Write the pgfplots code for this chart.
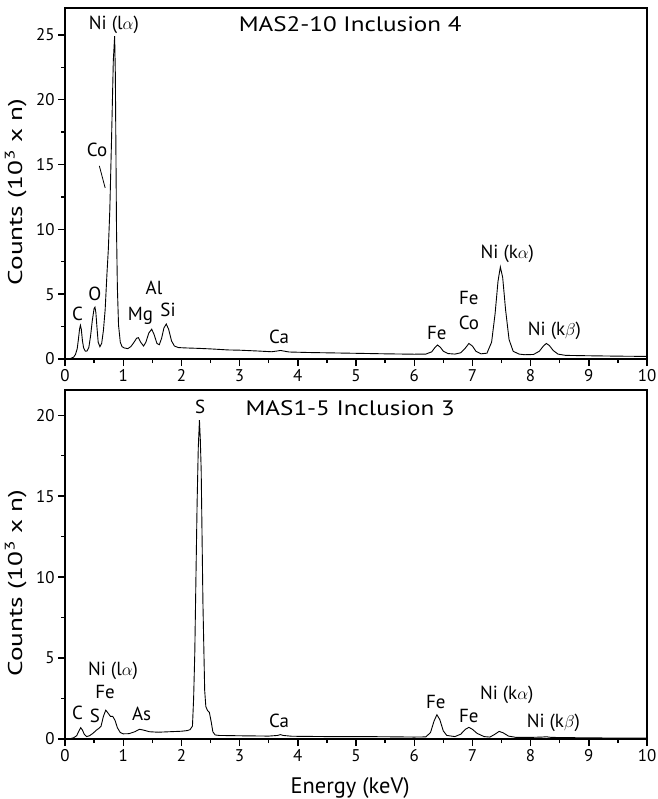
\documentclass[border=0pt]{standalone}
\usepackage{fontspec}
\setmainfont{PT Sans}
\usepackage{graphicx}
\usepackage{pgfplots}
\pgfplotsset{compat=1.18}

\newcommand{\annot}{\fontsize{19}{22}\selectfont}
\newcommand{\ttl}{\fontsize{21}{25}\selectfont}

\pgfplotsset{spec/.style={
  width=582bp, scale only axis,
  xmin=0, xmax=10, ymin=0,
  xtick={0,1,...,10}, minor x tick num=1, minor y tick num=1,
  tick align=outside, xtick pos=bottom, ytick pos=left,
  major tick length=7bp, minor tick length=4bp,
  tick style={line width=1.4bp, black},
  axis line style={line width=1.8bp},
  tick label style={font=\fontsize{17}{20}\selectfont},
  /pgf/number format/assume math mode=true,
  ylabel style={font=\fontsize{20}{24}\selectfont, anchor=south},
  clip=false,
}}

\begin{document}
\begin{tikzpicture}
% ---------------- top panel ----------------
\begin{axis}[spec, at={(65bp,-8bp)}, anchor=north west,
  height=351bp, ymax=27.08, ytick={0,5,...,25},
  ylabel={\scalebox{1.37}[1]{Counts (10\textsuperscript{3} x n)}},
  ylabel style={at={(rel axis cs:0,0.476)}, yshift=35bp}]
\addplot[black, line width=0.9bp] table {
x y
0.00 0.00
0.05 0.00
0.10 0.05
0.15 0.15
0.18 0.35
0.21 0.8
0.23 1.5
0.25 2.3
0.265 2.6
0.28 2.3
0.30 1.4
0.32 0.85
0.35 0.6
0.38 0.62
0.41 0.9
0.44 1.8
0.47 3.0
0.50 3.9
0.515 4.0
0.53 3.6
0.55 2.4
0.57 1.3
0.60 0.95
0.63 1.2
0.66 2.2
0.69 3.8
0.72 6.5
0.745 8.5
0.77 11.5
0.80 17
0.83 23
0.853 24.9
0.865 22
0.875 16
0.885 10
0.90 5.5
0.92 2.6
0.95 1.3
0.98 0.95
1.02 0.85
1.08 0.8
1.13 0.95
1.18 1.25
1.23 1.6
1.26 1.65
1.30 1.3
1.35 1.0
1.39 1.3
1.44 2.0
1.49 2.3
1.53 1.9
1.58 1.2
1.62 1.1
1.66 1.6
1.70 2.4
1.74 2.7
1.78 2.3
1.83 1.4
1.88 1.0
1.95 0.88
2.1 0.85
2.3 0.82
2.5 0.78
2.8 0.7
3.0 0.68
3.3 0.62
3.55 0.56
3.65 0.62
3.7 0.66
3.75 0.62
3.85 0.54
4.2 0.5
4.6 0.47
5.0 0.44
5.5 0.40
6.0 0.37
6.2 0.38
6.3 0.55
6.35 0.85
6.40 1.08
6.45 0.9
6.5 0.6
6.58 0.42
6.7 0.38
6.8 0.48
6.88 0.85
6.94 1.2
7.0 1.0
7.06 0.6
7.15 0.4
7.25 0.45
7.33 1.3
7.39 3.5
7.44 6.0
7.48 7.1
7.52 6.3
7.57 3.8
7.63 1.5
7.7 0.6
7.8 0.38
7.9 0.33
8.05 0.35
8.15 0.6
8.22 1.0
8.27 1.2
8.32 1.05
8.39 0.65
8.47 0.38
8.6 0.28
9.0 0.25
9.5 0.22
10.0 0.2
};
\node[font=\ttl, anchor=base] at (axis cs:4.9,25.25) {\scalebox{1.2}[1]{MAS2-10 Inclusion 4}};
\node[font=\annot, anchor=base] at (axis cs:0.84,25.4) {Ni (l$\alpha$)};
\node[font=\annot, anchor=base] at (axis cs:0.55,15.6) {Co};
\draw[line width=0.8bp] (axis cs:0.59,14.9) -- (axis cs:0.69,13.2);
\node[font=\annot, anchor=base] at (axis cs:0.214,3.0) {C};
\node[font=\annot, anchor=base] at (axis cs:0.515,4.55) {O};
\node[font=\annot, anchor=base] at (axis cs:1.295,3.0) {Mg};
\node[font=\annot, anchor=base] at (axis cs:1.53,4.94) {Al};
\node[font=\annot, anchor=base] at (axis cs:1.77,3.26) {Si};
\node[font=\annot, anchor=base] at (axis cs:3.68,1.21) {Ca};
\node[font=\annot, anchor=base] at (axis cs:6.39,1.47) {Fe};
\node[font=\annot, anchor=base] at (axis cs:6.94,4.17) {Fe};
\node[font=\annot, anchor=base] at (axis cs:6.94,2.24) {Co};
\node[font=\annot, anchor=base] at (axis cs:7.60,7.77) {Ni (k$\alpha$)};
\node[font=\annot, anchor=base] at (axis cs:8.41,1.85) {Ni (k$\beta$)};
\end{axis}
% ---------------- bottom panel ----------------
\begin{axis}[spec, at={(65bp,-390bp)}, anchor=north west,
  height=349bp, ymax=21.56, ytick={0,5,...,20},
  ylabel={\scalebox{1.37}[1]{Counts (10\textsuperscript{3} x n)}},
  ylabel style={at={(rel axis cs:0,0.447)}, yshift=35bp},
  xlabel={Energy (keV)},
  xlabel style={font=\fontsize{22.5}{26}\selectfont, at={(rel axis cs:0.49,0)}, anchor=base, yshift=-54bp}]
\addplot[black, line width=0.9bp] table {
x y
0.00 0
0.1 0.03
0.15 0.08
0.2 0.2
0.24 0.5
0.27 0.7
0.30 0.55
0.33 0.3
0.37 0.15
0.42 0.2
0.48 0.35
0.54 0.55
0.58 0.65
0.62 0.8
0.66 1.4
0.70 1.78
0.74 1.6
0.78 1.4
0.82 1.4
0.86 1.15
0.90 0.7
0.95 0.4
1.0 0.32
1.1 0.33
1.2 0.45
1.28 0.6
1.35 0.55
1.45 0.45
1.6 0.42
1.8 0.45
2.0 0.48
2.10 0.52
2.15 0.58
2.19 0.8
2.21 2.5
2.23 5.3
2.25 10
2.27 14.6
2.29 18
2.31 19.7
2.325 18.5
2.34 16.6
2.37 8.4
2.40 3.0
2.42 2.0
2.45 1.75
2.48 1.65
2.51 1.1
2.54 0.45
2.58 0.25
2.65 0.22
3.0 0.2
3.5 0.18
3.65 0.22
3.7 0.27
3.75 0.22
3.9 0.17
4.5 0.15
5.0 0.15
5.5 0.14
6.0 0.12
6.2 0.13
6.28 0.4
6.34 1.1
6.39 1.5
6.44 1.2
6.5 0.5
6.56 0.22
6.7 0.15
6.8 0.3
6.88 0.6
6.94 0.72
7.0 0.6
7.08 0.35
7.2 0.15
7.3 0.12
7.38 0.28
7.46 0.47
7.53 0.38
7.62 0.18
7.75 0.1
8.0 0.1
8.2 0.12
8.27 0.14
8.35 0.1
9.0 0.07
10.0 0.05
};
\node[font=\ttl, anchor=base] at (axis cs:4.9,20.0) {\scalebox{1.2}[1]{MAS1-5 Inclusion 3}};
\node[font=\annot, anchor=base] at (axis cs:2.32,20.12) {S};
\node[font=\annot, anchor=base] at (axis cs:0.825,3.9) {Ni (l$\alpha$)};
\node[font=\annot, anchor=base] at (axis cs:0.687,2.53) {Fe};
\node[font=\annot, anchor=base] at (axis cs:0.214,1.19) {C};
\node[font=\annot, anchor=base] at (axis cs:0.515,0.99) {S};
\node[font=\annot, anchor=base] at (axis cs:1.317,1.15) {As};
\node[font=\annot, anchor=base] at (axis cs:3.68,0.74) {Ca};
\node[font=\annot, anchor=base] at (axis cs:6.37,1.91) {Fe};
\node[font=\annot, anchor=base] at (axis cs:6.94,0.99) {Fe};
\node[font=\annot, anchor=base] at (axis cs:7.59,2.43) {Ni (k$\alpha$)};
\node[font=\annot, anchor=base] at (axis cs:8.39,0.74) {Ni (k$\beta$)};
\end{axis}
\pgfresetboundingbox
\path[use as bounding box] (0,0) rectangle (658bp,-799bp);
\end{tikzpicture}
\end{document}
